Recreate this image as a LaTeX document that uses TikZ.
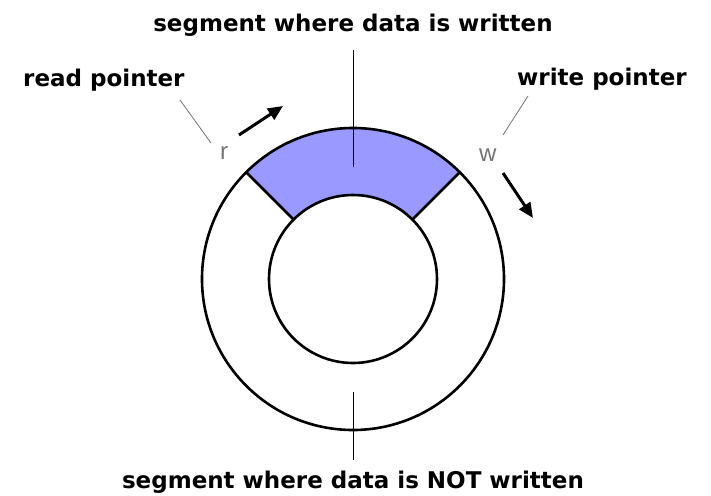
\documentclass[tikz,border=0pt]{standalone}
\usepackage{fontspec}
\setmainfont{DejaVu Sans}
\newfontfamily\thinfont{Liberation Sans}
\usetikzlibrary{arrows.meta}
\definecolor{segfill}{RGB}{153,153,255}

\begin{document}
\begin{tikzpicture}[
    x=1pt, y=1pt,
    ring/.style={line width=2.6pt},
    caption/.style={font=\fontsize{23}{26}\selectfont\bfseries, inner sep=0pt, anchor=base},
    ptrlabel/.style={font=\fontsize{23}{26}\selectfont\bfseries, inner sep=0pt, anchor=base west},
    ptrmark/.style={font=\fontsize{24}{26}\thinfont, text=black!55, inner sep=0pt, anchor=base west},
    lead/.style={black!55, line width=0.8pt},
    pin/.style={black, line width=1pt},
    move/.style={-{Triangle[length=15pt,width=13pt]}, line width=3pt},
]
\useasboundingbox (-353,-216) rectangle (358,279);

% Segment holding the written data
\fill[segfill] (45:84) arc (45:135:84) -- (135:151) arc (135:45:151) -- cycle;

% Ring buffer
\draw[ring] (0,0) circle (151);
\draw[ring] (0,0) circle (84);
\draw[ring] (45:84) -- (45:151);
\draw[ring] (135:84) -- (135:151);

% Captions with their pins
\node[caption] (written) at (0,247) {segment where data is written};
\node[caption] (notwritten) at (0,-209) {segment where data is NOT written};
\coordinate (wtop) at (0,229);
\coordinate (wend) at (0,112);
\coordinate (ntop) at (0,-113);
\coordinate (nend) at (0,-181);
\draw[pin] (wtop) -- (wend);
\draw[pin] (ntop) -- (nend);

% Read and write pointers
\node[ptrlabel] (readptr) at (-330,192) {read pointer};
\node[ptrlabel] (writeptr) at (164,193) {write pointer};
\node[ptrmark] (r) at (-133,119) {r};
\node[ptrmark] (w) at (126,117) {w};

\coordinate (rlead1) at (-173,179);
\coordinate (rlead2) at (-142,136);
\coordinate (wlead1) at (175,183);
\coordinate (wlead2) at (150,144);
\draw[lead] (rlead1) -- (rlead2);
\draw[lead] (wlead1) -- (wlead2);

% Direction of movement
\coordinate (rfrom) at (-114,144);
\coordinate (rto) at (-70,173);
\coordinate (wfrom) at (150,106);
\coordinate (wto) at (180,61);
\draw[move] (rfrom) -- (rto);
\draw[move] (wfrom) -- (wto);

\end{tikzpicture}
\end{document}
